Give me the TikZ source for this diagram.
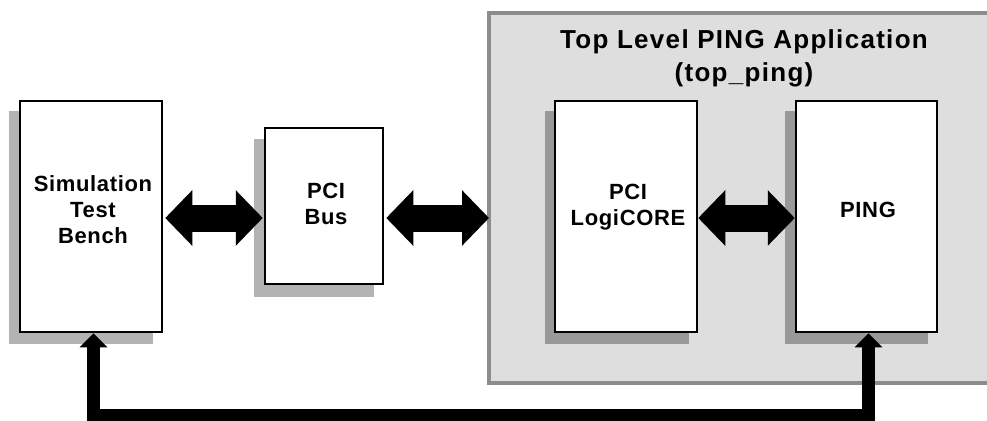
\documentclass[tikz,border=0pt]{standalone}
\usepackage{fontspec}
\setmainfont{Liberation Sans}
\newfontfamily\lab{Liberation Sans}[LetterSpace=3]
\newfontfamily\ttl{Liberation Sans}[LetterSpace=5]
\usetikzlibrary{arrows.meta,calc}
\definecolor{panel}{HTML}{DEDEDE}
\definecolor{panelline}{HTML}{8C8C8C}
\definecolor{shadowout}{HTML}{B3B3B3}
\definecolor{shadowin}{HTML}{999999}
\begin{document}
\begin{tikzpicture}[x=1pt,y=-1pt,
  blockbox/.style={draw=black,line width=2.5pt,fill=white,rectangle,inner sep=0pt},
  blocktext/.style={font=\lab\bfseries\fontsize{22}{26}\selectfont,align=center,inner sep=0pt},
  bigarrow/.style={line width=27pt,{Triangle[length=27pt,width=54pt]}-{Triangle[length=27pt,width=54pt]}},
  busline/.style={line width=13pt,line join=miter,{Triangle[length=14pt,width=27pt]}-{Triangle[length=14pt,width=27pt]}}]
\useasboundingbox (0,0) rectangle (987,420);
\fill[white] (0,0) rectangle (987,420);
% top level panel
\node[draw=panelline,fill=panel,line width=4pt,rectangle,minimum width=520pt,minimum height=370pt,anchor=north west,inner sep=0pt] (top) at (487,11) {};
\node[font=\ttl\bfseries\fontsize{26}{33}\selectfont,align=center,inner sep=0pt] (title) at (744,58) {Top Level PING Application\\(top\_ping)};
% shadows
\fill[shadowout] (9,111) rectangle ++(144,233);
\fill[shadowout] (254,139) rectangle ++(120,158);
\fill[shadowin] (545,111) rectangle ++(144,233);
\fill[shadowin] (785,111) rectangle ++(143,233);
% blocks
\node[blockbox,minimum width=142pt,minimum height=231pt] (sim) at (91,216.5) {};
\node[blockbox,minimum width=118pt,minimum height=156pt] (bus) at (324,206) {};
\node[blockbox,minimum width=142pt,minimum height=231pt] (logi) at (626,216.5) {};
\node[blockbox,minimum width=141pt,minimum height=231pt] (ping) at (866.5,216.5) {};
\node[blocktext] (simtxt) at (93,210) {Simulation\\Test\\Bench};
\node[blocktext] (bustxt) at (326,204) {PCI\\Bus};
\node[blocktext] (logitxt) at (628,207) {PCI\\LogiCORE};
\node[blocktext] (pingtxt) at (868,210) {PING};
% arrows
\coordinate (topin) at (489,218);
\draw[bigarrow] ($(sim.east)+(2,1.5)$) -- ($(bus.west)+(-1,12)$);
\draw[bigarrow] ($(bus.east)+(2,12)$) -- (topin);
\draw[bigarrow] ($(logi.east)+(0,1.5)$) -- ($(ping.west)+(0,1.5)$);
\coordinate (lowy) at (0,415.5);
\coordinate (pa) at ($(ping.south)+(2,0)$);
\coordinate (sa) at ($(sim.south)+(2.5,0)$);
\draw[busline] (pa) -- (pa |- lowy) -- (sa |- lowy) -- (sa);
\end{tikzpicture}
\end{document}
